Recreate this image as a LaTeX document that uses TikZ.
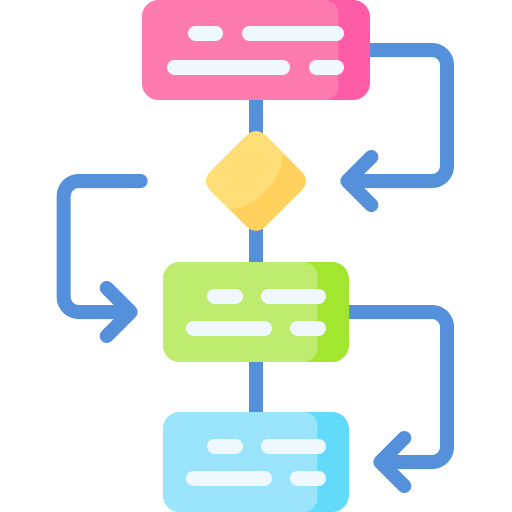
\documentclass[tikz,border=0pt]{standalone}
\usepackage{tikz}
\usepackage{xcolor}
\usetikzlibrary{shapes.geometric, arrows.meta, positioning, backgrounds, calc}

\definecolor{pinklight}{HTML}{FE7BB0}
\definecolor{pinkdark}{HTML}{FF5CA8}
\definecolor{yellowlight}{HTML}{FFDE78}
\definecolor{yellowdark}{HTML}{FFD05C}
\definecolor{greenlight}{HTML}{BEEC6E}
\definecolor{greendark}{HTML}{A3E62F}
\definecolor{bluelight}{HTML}{9AE5FC}
\definecolor{bluedark}{HTML}{62DBFA}
\definecolor{linkblue}{HTML}{5591DA}
\definecolor{barwhite}{HTML}{EFF8FE}

\begin{document}
\begin{tikzpicture}[x=0.02cm, y=-0.02cm,
  box/.style 2 args={rectangle, fill=#2, rounded corners=0.34cm, inner sep=0, minimum height=2cm,
    path picture={\fill[#1, rounded corners=0.28cm] (path picture bounding box.north west) rectangle ([xshift=-0.63cm]path picture bounding box.south east);}},
  link/.style={draw=linkblue, line width=0.28cm, line cap=round, line join=round, rounded corners=0.3cm},
  back/.style={-{Straight Barb[length=0.48cm, width=0.96cm, round]}},
  bar/.style={draw=barwhite, line width=0.3cm, line cap=round}]
\useasboundingbox (0,0) rectangle (512,512);

% boxes
\node[box={pinklight}{pinkdark}, minimum width=4.56cm] (start) at (256,50) {};
\node[diamond, fill=yellowdark, inner sep=0, minimum width=2.2cm, minimum height=2.2cm, rounded corners=0.24cm,
  path picture={\fill[yellowlight] ($(path picture bounding box.center)+(27,-27)$) .. controls +(-5,28) and +(25,-8) .. ($(path picture bounding box.center)+(-24,29)$) -- ++(-60,0) -- ++(0,-120) -- ++(120,0) -- cycle;}] (check) at (256,181) {};
\node[box={greenlight}{greendark}, minimum width=3.72cm] (process) at (256,312) {};
\node[box={bluelight}{bluedark}, minimum width=3.72cm] (result) at (256,462) {};

% lines behind the boxes
\coordinate (backtop) at ($(check.east)+(29,0)$);
\coordinate (leftout) at ($(check.west)+(-60,0)$);
\coordinate (leftin) at ($(process.west)+(-25,0)$);
\coordinate (backbottom) at ($(result.east)+(24,0)$);
\begin{scope}[on background layer]
\draw[link] (start.center) -- (result.center);
\draw[link, back] (start.center) -- ++(191,0) |- (backtop);
\draw[link, back] (leftout) -- ++(-77,0) |- (leftin);
\draw[link, back] (process.center) -- ++(191,0) |- (backbottom);
\end{scope}

% text lines
\draw[bar] (195.5,33) -- (215.5,33);
\draw[bar] (249.5,33) -- (336.5,33);
\draw[bar] (174.5,67) -- (282.5,67);
\draw[bar] (316.5,67) -- (336.5,67);
\foreach \y in {0,150} {
  \draw[bar] (214.5,296+\y) -- (235.5,296+\y);
  \draw[bar] (268.5,296+\y) -- (318.5,296+\y);
  \draw[bar] (193.5,328+\y) -- (264.5,328+\y);
  \draw[bar] (297.5,328+\y) -- (318.5,328+\y);
}
\end{tikzpicture}
\end{document}
